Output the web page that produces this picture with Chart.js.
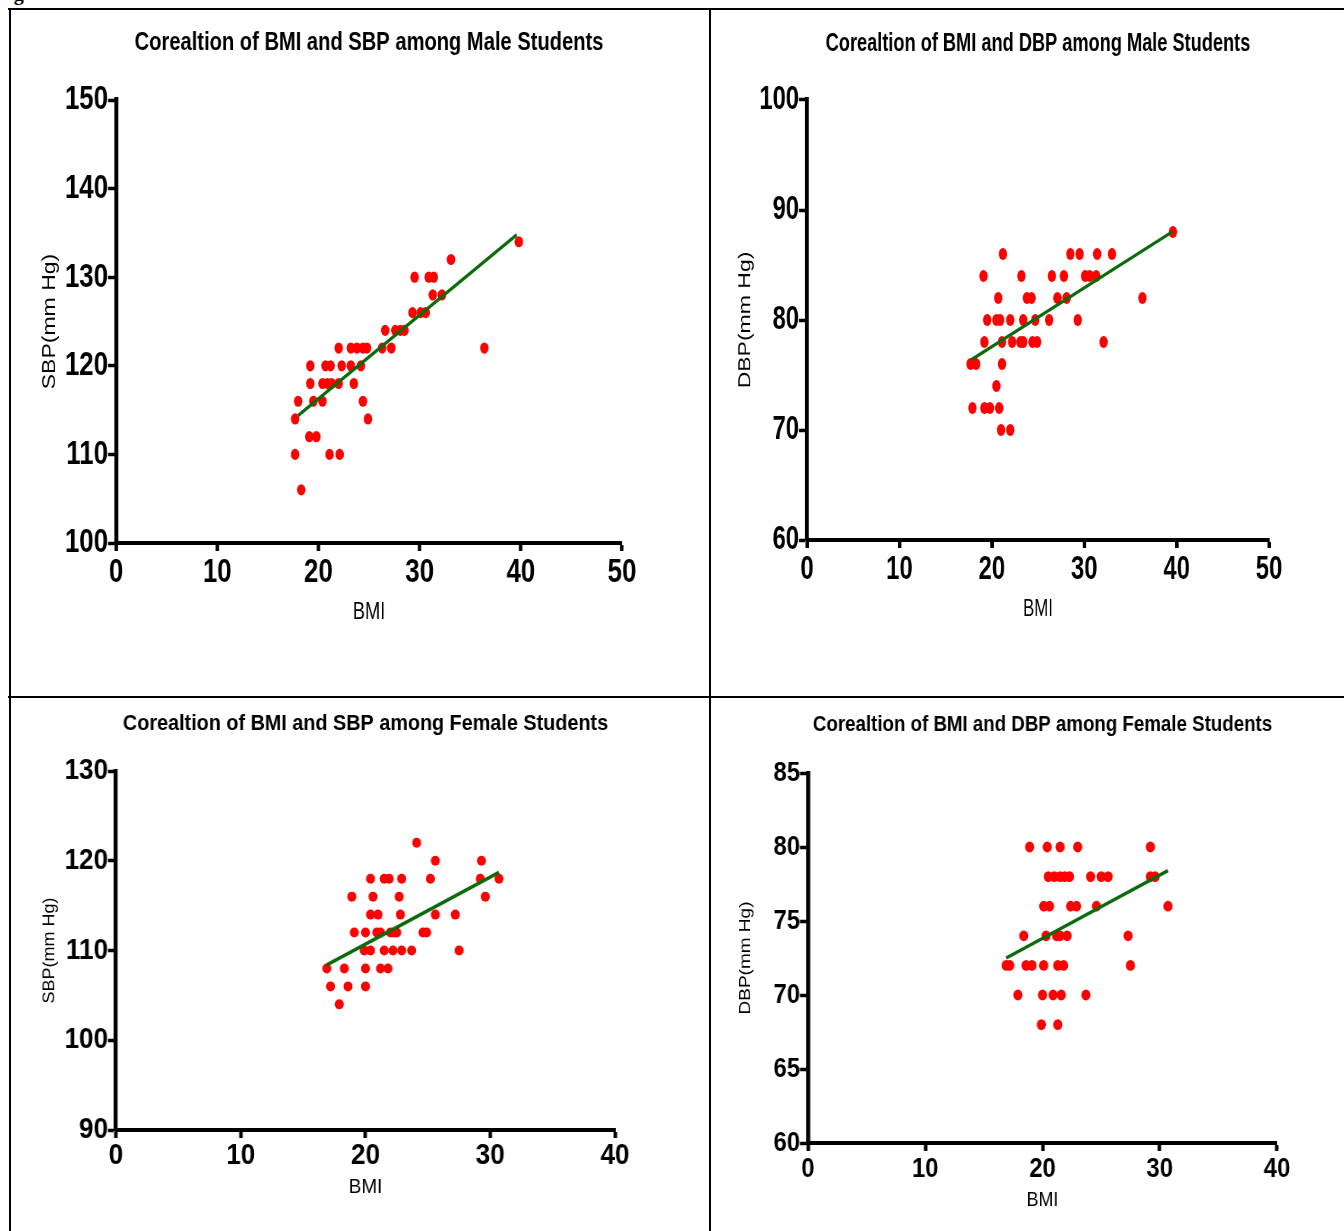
<!DOCTYPE html>
<html>
<head>
<meta charset="utf-8">
<script src="https://cdn.jsdelivr.net/npm/chart.js@4.4.0/dist/chart.umd.min.js"></script>
<style>
  html, body { margin: 0; padding: 0; background: #fff; }
  body { width: 1344px; height: 1231px; position: relative; overflow: hidden; }
  .rule { position: absolute; background: #000; }
  .cell { position: absolute; overflow: hidden; }
  .cell canvas { position: absolute; left: 0; top: 0; transform-origin: 0 0; }
  .caption { position: absolute; left: -4px; top: -18px; line-height: 20px; font: bold 20px 'Liberation Serif', serif; white-space: nowrap; }
</style>
</head>
<body>
<div class="caption">Figure</div>
<div class="rule" style="left:8px;top:8px;width:1336px;height:2px"></div>
<div class="rule" style="left:9px;top:8px;width:2px;height:1223px"></div>
<div class="rule" style="left:709px;top:8px;width:2px;height:1223px"></div>
<div class="rule" style="left:8px;top:696px;width:1336px;height:2px"></div>
<div class="cell" id="p1"></div>
<div class="cell" id="p2"></div>
<div class="cell" id="p3"></div>
<div class="cell" id="p4"></div>
<script>
const FONT = "'Liberation Sans', Arial, sans-serif";

// male students, BMI vs SBP
const maleSbpBmi = [39.8, 33.1, 29.5, 30.9, 31.4, 31.3, 32.2, 29.3, 30.1, 30.6,
  26.6, 27.6, 28.1, 28.5, 22.0, 23.2, 23.8, 24.4, 24.8, 26.3, 27.2, 36.4,
  19.2, 20.7, 21.2, 22.3, 23.2, 24.2, 19.2, 20.4, 20.9, 21.3, 22.0, 23.5,
  18.0, 19.5, 20.4, 24.4, 17.7, 24.9, 19.1, 19.8, 17.7, 21.1, 22.1, 18.3];
const maleSbpVal = [134, 132, 130, 130, 130, 128, 128, 126, 126, 126,
  124, 124, 124, 124, 122, 122, 122, 122, 122, 122, 122, 122,
  120, 120, 120, 120, 120, 120, 118, 118, 118, 118, 118, 118,
  116, 116, 116, 116, 114, 114, 112, 112, 110, 110, 110, 106];
const maleSbpFitBmi = [18.0, 39.6];
const maleSbpFitVal = [114.4, 134.8];

// male students, BMI vs DBP
const maleDbpBmi = [39.6, 21.2, 28.5, 29.5, 31.4, 33.0,
  19.1, 23.2, 26.5, 27.8, 30.1, 30.6, 31.3,
  20.7, 23.8, 24.3, 27.1, 28.1, 36.3,
  19.5, 20.5, 20.9, 22.0, 23.4, 24.7, 26.2, 29.3,
  19.2, 21.1, 22.2, 23.1, 23.4, 24.4, 24.9, 32.1,
  17.7, 18.3, 21.1, 20.5, 17.9, 19.2, 19.8, 20.8, 21.0, 22.0];
const maleDbpVal = [88, 86, 86, 86, 86, 86,
  84, 84, 84, 84, 84, 84, 84,
  82, 82, 82, 82, 82, 82,
  80, 80, 80, 80, 80, 80, 80, 80,
  78, 78, 78, 78, 78, 78, 78, 78,
  76, 76, 76, 74, 72, 72, 72, 72, 70, 70];
const maleDbpFitBmi = [17.8, 39.5];
const maleDbpFitVal = [76.4, 88.0];

// female students, BMI vs SBP
const femaleSbpBmi = [24.1, 25.6, 29.3,
  20.4, 21.5, 21.9, 22.9, 25.2, 29.2, 30.7,
  18.9, 20.6, 22.7, 29.6,
  20.4, 21.0, 22.8, 25.6, 27.2,
  19.1, 20.0, 20.9, 21.2, 22.0, 22.3, 22.5, 24.6, 24.9,
  19.9, 20.4, 21.5, 22.2, 22.9, 23.7, 27.5,
  16.9, 18.3, 20.0, 21.2, 21.8, 17.2, 18.6, 20.0, 17.9];
const femaleSbpVal = [122, 120, 120,
  118, 118, 118, 118, 118, 118, 118,
  116, 116, 116, 116,
  114, 114, 114, 114, 114,
  112, 112, 112, 112, 112, 112, 112, 112, 112,
  110, 110, 110, 110, 110, 110, 110,
  108, 108, 108, 108, 108, 106, 106, 106, 104];
const femaleSbpFitBmi = [16.9, 30.7];
const femaleSbpFitVal = [108.4, 118.7];

// female students, BMI vs DBP
const femaleDbpBmi = [18.9, 20.4, 21.5, 23.0, 29.2,
  20.5, 21.0, 21.5, 21.9, 22.3, 24.1, 25.0, 25.6, 29.2, 29.6,
  20.1, 20.6, 22.4, 22.9, 24.6, 30.7,
  18.4, 20.3, 21.2, 21.5, 22.1, 27.3,
  16.9, 17.2, 18.6, 19.1, 20.1, 21.3, 21.8, 27.5,
  17.9, 20.0, 20.9, 21.6, 23.7, 19.9, 21.3];
const femaleDbpVal = [80, 80, 80, 80, 80,
  78, 78, 78, 78, 78, 78, 78, 78, 78, 78,
  76, 76, 76, 76, 76, 76,
  74, 74, 74, 74, 74, 74,
  72, 72, 72, 72, 72, 72, 72, 72,
  70, 70, 70, 70, 70, 68, 68];
const femaleDbpFitBmi = [16.9, 30.7];
const femaleDbpFitVal = [72.5, 78.4];

const bmiTicks50 = [0, 10, 20, 30, 40, 50];
const bmiTicks40 = [0, 10, 20, 30, 40];
const sbpMaleTicks = [100, 110, 120, 130, 140, 150];
const dbpMaleTicks = [60, 70, 80, 90, 100];
const sbpFemaleTicks = [90, 100, 110, 120, 130];
const dbpFemaleTicks = [60, 65, 70, 75, 80, 85];

function pairs(xs, ys) {
  return xs.map((x, i) => ({ x: x, y: ys[i] }));
}

// each chart is drawn wide and squeezed horizontally, like the original figure
function makePanel(id, p) {
  const cell = document.getElementById(id);
  cell.style.left = p.left + 'px';
  cell.style.top = p.top + 'px';
  cell.style.width = p.width + 'px';
  cell.style.height = p.height + 'px';

  const W = Math.round(p.width / p.s), H = p.height;
  const canvas = document.createElement('canvas');
  canvas.width = W;
  canvas.height = H;
  canvas.style.width = W + 'px';
  canvas.style.height = H + 'px';
  canvas.style.transform = 'scaleX(' + p.s + ')';
  cell.appendChild(canvas);

  const L = (p.area.l - p.left) / p.s;
  const R = (p.area.r - p.left) / p.s;
  const T = p.area.t - p.top;
  const B = p.area.b - p.top;
  const titleLh = p.titleSize * 1.2;
  const titleTop = (p.titleY - p.top) - titleLh / 2;
  const yLh = p.yTitleSize * 1.2;
  const xLh = p.xTitleSize * 1.2;

  new Chart(canvas.getContext('2d'), {
    type: 'scatter',
    data: {
      datasets: [
        {
          data: pairs(p.bmi, p.val),
          backgroundColor: '#ff0000',
          borderWidth: 0,
          pointRadius: p.dot,
          pointHoverRadius: p.dot,
          order: 2
        },
        {
          type: 'line',
          data: pairs(p.fitBmi, p.fitVal),
          borderColor: '#0b6b0b',
          borderWidth: 3.5,
          pointRadius: 0,
          showLine: true,
          fill: false,
          order: 1
        }
      ]
    },
    options: {
      responsive: false,
      animation: false,
      events: [],
      layout: { padding: { left: 0, top: 0, bottom: 0, right: W - R } },
      plugins: {
        legend: { display: false },
        tooltip: { enabled: false },
        title: {
          display: true,
          text: p.title,
          fullSize: false,
          color: '#000',
          font: { family: FONT, size: p.titleSize, weight: 'bold', lineHeight: 1.2 },
          padding: { top: titleTop, bottom: T - titleTop - titleLh }
        }
      },
      scales: {
        x: {
          type: 'linear',
          min: p.xTicks[0],
          max: p.xTicks[p.xTicks.length - 1],
          afterFit: (sc) => { sc.height = H - B; },
          ticks: {
            stepSize: p.xTicks[1] - p.xTicks[0],
            autoSkip: false,
            maxRotation: 0,
            color: '#000',
            padding: 1,
            font: { family: FONT, size: p.tickSize, weight: 'bold', lineHeight: 1.2 }
          },
          grid: {
            drawOnChartArea: false,
            color: '#000',
            tickColor: '#000',
            tickLength: 8,
            tickWidth: 3.5 / p.s
          },
          border: { display: true, color: '#000', width: 4 },
          title: {
            display: true,
            text: 'BMI',
            color: '#000',
            font: { family: FONT, size: p.xTitleSize, lineHeight: 1.2 },
            padding: { top: 0, bottom: (H - (p.xTitleY - p.top)) - xLh / 2 }
          }
        },
        y: {
          type: 'linear',
          min: p.yTicks[0],
          max: p.yTicks[p.yTicks.length - 1],
          afterFit: (sc) => { sc.width = L; },
          ticks: {
            stepSize: p.yTicks[1] - p.yTicks[0],
            autoSkip: false,
            color: '#000',
            padding: 0,
            font: { family: FONT, size: p.tickSize, weight: 'bold', lineHeight: 1.2 }
          },
          grid: {
            drawOnChartArea: false,
            color: '#000',
            tickColor: '#000',
            tickLength: 8 / p.s,
            tickWidth: 3.5
          },
          border: { display: true, color: '#000', width: 4 / p.s },
          title: {
            display: true,
            text: p.yTitle,
            color: '#000',
            font: { family: FONT, size: p.yTitleSize, lineHeight: 1.2 },
            padding: { top: (p.yTitleX - p.left) / p.s - yLh / 2, bottom: 0 }
          }
        }
      }
    }
  });
}

makePanel('p1', {
  left: 11, top: 10, width: 698, height: 686, s: 0.76,
  area: { l: 116, r: 622, t: 100, b: 543 },
  titleY: 43, yTitleX: 50, xTitleY: 612,
  titleSize: 26.5, tickSize: 34, yTitleSize: 23, xTitleSize: 24, dot: 5.6,
  title: 'Corealtion of BMI and SBP among Male Students', yTitle: 'SBP(mm Hg)',
  bmi: maleSbpBmi, val: maleSbpVal, fitBmi: maleSbpFitBmi, fitVal: maleSbpFitVal,
  xTicks: bmiTicks50, yTicks: sbpMaleTicks
});

makePanel('p2', {
  left: 711, top: 10, width: 633, height: 686, s: 0.70,
  area: { l: 807, r: 1269, t: 100, b: 540 },
  titleY: 44, yTitleX: 746, xTitleY: 609,
  titleSize: 26, tickSize: 34, yTitleSize: 23, xTitleSize: 24, dot: 6,
  title: 'Corealtion of BMI and DBP among Male Students', yTitle: 'DBP(mm Hg)',
  bmi: maleDbpBmi, val: maleDbpVal, fitBmi: maleDbpFitBmi, fitVal: maleDbpFitVal,
  xTicks: bmiTicks50, yTicks: dbpMaleTicks
});

makePanel('p3', {
  left: 11, top: 698, width: 698, height: 533, s: 0.9,
  area: { l: 116, r: 615, t: 771, b: 1130 },
  titleY: 724, yTitleX: 50, xTitleY: 1187,
  titleSize: 22, tickSize: 29, yTitleSize: 18, xTitleSize: 21, dot: 5,
  title: 'Corealtion of BMI and SBP among Female Students', yTitle: 'SBP(mm Hg)',
  bmi: femaleSbpBmi, val: femaleSbpVal, fitBmi: femaleSbpFitBmi, fitVal: femaleSbpFitVal,
  xTicks: bmiTicks40, yTicks: sbpFemaleTicks
});

makePanel('p4', {
  left: 711, top: 698, width: 633, height: 533, s: 0.85,
  area: { l: 808, r: 1277, t: 773, b: 1143 },
  titleY: 725, yTitleX: 746, xTitleY: 1200,
  titleSize: 22, tickSize: 28, yTitleSize: 19, xTitleSize: 21, dot: 5.4,
  title: 'Corealtion of BMI and DBP among Female Students', yTitle: 'DBP(mm Hg)',
  bmi: femaleDbpBmi, val: femaleDbpVal, fitBmi: femaleDbpFitBmi, fitVal: femaleDbpFitVal,
  xTicks: bmiTicks40, yTicks: dbpFemaleTicks
});
</script>
</body>
</html>
